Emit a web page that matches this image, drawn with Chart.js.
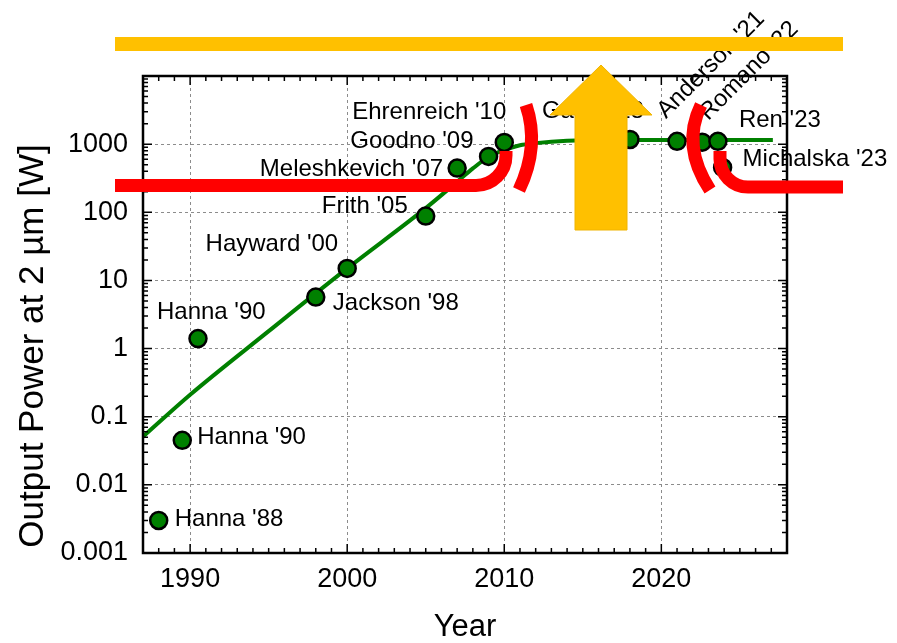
<!DOCTYPE html>
<html>
<head>
<meta charset="utf-8">
<script src="https://cdn.jsdelivr.net/npm/chart.js@4.4.1/dist/chart.umd.min.js"></script>
<style>
  html, body { margin: 0; padding: 0; background: #fff; }
  #wrap { width: 897px; height: 643px; }
</style>
</head>
<body>
<div id="wrap"><canvas id="c" width="897" height="643"></canvas></div>
<script>
// Reported output power of 2 µm lasers, by year of publication
const years   = [1988, 1989.5, 1990.5, 1998, 2000, 2005, 2007, 2009, 2010, 2018, 2021, 2022.6, 2023.6, 2023.9];
const powers  = [0.003, 0.045, 1.4, 5.7, 15, 88, 445, 660, 1060, 1170, 1100, 1070, 1100, 455];
const authors = ["Hanna '88", "Hanna '90", "Hanna '90", "Jackson '98", "Hayward '00", "Frith '05",
                 "Meleshkevich '07", "Goodno '09", "Ehrenreich '10", "Gaida '18", "Anderson '21",
                 "Romano '22", "Ren '23", "Michalska '23"];

// Trend curve: exponential growth that levels off near 1 kW
const trendYears  = [1987, 1990, 1995, 2000, 2005, 2007, 2008, 2009, 2010, 2011, 2012, 2014, 2017, 2020, 2024, 2027.1];
const trendPowers = [0.051, 0.21, 1.8, 15, 115, 280, 440, 650, 820, 965, 1035, 1120, 1150, 1150, 1150, 1150];

// Axis tick labels
const yearTicks  = [1990, 2000, 2010, 2020];
const powerTicks = [0.001, 0.01, 0.1, 1, 10, 100, 1000];

const FONT = '"Liberation Sans", Arial, sans-serif';
const GREEN = '#008000';

// Where each author label sits relative to its marker
const labelPlacement = [
  { dx: 16,  dy: -1,  align: 'left' },
  { dx: 15,  dy: -3,  align: 'left' },
  { dx: -41, dy: -26, align: 'left' },
  { dx: 17,  dy: 6,   align: 'left' },
  { dx: -9,  dy: -24, align: 'right' },
  { dx: -18, dy: -10, align: 'right' },
  { dx: -14, dy: 1,   align: 'right' },
  { dx: -15, dy: -15, align: 'right' },
  { dx: 2,   dy: -30, align: 'right' },
  { dx: -88, dy: -28, align: 'left' },
  { dx: -11, dy: -22, align: 'left', rot: -45 },
  { dx: 6,   dy: -21, align: 'left', rot: -45 },
  { dx: 21,  dy: -21, align: 'left' },
  { dx: 20,  dy: -8,  align: 'left' }
];

// Frame with inward major/minor ticks on all four sides
const framePlugin = {
  id: 'frame',
  afterDatasetsDraw(chart) {
    const { ctx, chartArea: a, scales: { x, y } } = chart;
    ctx.save();
    ctx.strokeStyle = '#000';
    ctx.lineWidth = 1.5;
    ctx.beginPath();
    for (let yr = Math.ceil(x.min); yr <= Math.floor(x.max); yr++) {
      const px = x.getPixelForValue(yr);
      const len = yearTicks.includes(yr) ? 9 : 5;
      ctx.moveTo(px, a.bottom); ctx.lineTo(px, a.bottom - len);
      ctx.moveTo(px, a.top);    ctx.lineTo(px, a.top + len);
    }
    for (let d = -3; d <= 3; d++) {
      for (let m = 1; m <= 9; m++) {
        const py = y.getPixelForValue(m * Math.pow(10, d));
        const len = m === 1 ? 9 : 5;
        ctx.moveTo(a.left, py);  ctx.lineTo(a.left + len, py);
        ctx.moveTo(a.right, py); ctx.lineTo(a.right - len, py);
      }
    }
    ctx.stroke();
    ctx.lineWidth = 2.5;
    ctx.strokeRect(a.left, a.top, a.right - a.left, a.bottom - a.top);

    // author labels next to their markers
    const meta = chart.getDatasetMeta(0);
    ctx.fillStyle = '#000';
    ctx.font = '24px ' + FONT;
    meta.data.forEach((pt, i) => {
      const p = labelPlacement[i];
      ctx.save();
      ctx.translate(pt.x + p.dx, pt.y + p.dy);
      ctx.textAlign = p.align;
      if (p.rot) {
        ctx.rotate(p.rot * Math.PI / 180);
        ctx.textBaseline = 'alphabetic';
      } else {
        ctx.textBaseline = 'middle';
      }
      ctx.fillText(authors[i], 0, 0);
      ctx.restore();
    });
    ctx.restore();
  }
};

// Vertical axis title and highlight shapes
const overlayPlugin = {
  id: 'overlay',
  afterDraw(chart) {
    const ctx = chart.ctx;
    ctx.save();
    ctx.fillStyle = '#000';
    ctx.font = '35px ' + FONT;
    ctx.textAlign = 'center';
    ctx.textBaseline = 'middle';
    ctx.translate(33, 346);
    ctx.rotate(-Math.PI / 2);
    ctx.fillText('Output Power at 2 µm [W]', 0, 0);
    ctx.restore();

    ctx.save();
    // amber ceiling bar
    ctx.fillStyle = '#FFC000';
    ctx.fillRect(115, 37, 728, 14);
    // amber up arrow
    ctx.beginPath();
    ctx.moveTo(601, 65);
    ctx.lineTo(652, 115);
    ctx.lineTo(627, 115);
    ctx.lineTo(627, 230);
    ctx.lineTo(575, 230);
    ctx.lineTo(575, 115);
    ctx.lineTo(550, 115);
    ctx.closePath();
    ctx.fill();
    ctx.strokeStyle = '#F0B400';
    ctx.lineWidth = 1;
    ctx.stroke();

    // red brackets
    ctx.strokeStyle = '#FF0000';
    ctx.lineWidth = 13;
    ctx.lineCap = 'butt';
    ctx.beginPath();
    ctx.moveTo(115, 185.5);
    ctx.lineTo(476, 185.5);
    ctx.arc(476, 155.5, 30, Math.PI / 2, 0, true);
    ctx.lineTo(506, 151);
    ctx.stroke();

    ctx.beginPath();
    ctx.moveTo(526, 105);
    ctx.quadraticCurveTo(540, 146, 519, 190);
    ctx.stroke();

    ctx.beginPath();
    ctx.moveTo(701, 105);
    ctx.quadraticCurveTo(681, 146, 710, 190);
    ctx.stroke();

    ctx.beginPath();
    ctx.moveTo(720, 151);
    ctx.lineTo(720, 159);
    ctx.arc(748, 159, 28, Math.PI, Math.PI / 2, true);
    ctx.lineTo(843, 187);
    ctx.stroke();
    ctx.restore();
  }
};

new Chart(document.getElementById('c'), {
  type: 'scatter',
  data: {
    datasets: [
      {
        label: 'Reported',
        data: years.map((yr, i) => ({ x: yr, y: powers[i] })),
        pointRadius: 8.5,
        pointHoverRadius: 8.5,
        borderWidth: 2.5,
        borderColor: '#000',
        backgroundColor: GREEN,
        order: 1
      },
      {
        label: 'Trend',
        data: trendYears.map((yr, i) => ({ x: yr, y: trendPowers[i] })),
        showLine: true,
        pointRadius: 0,
        borderColor: GREEN,
        borderWidth: 4,
        cubicInterpolationMode: 'monotone',
        order: 2
      }
    ]
  },
  options: {
    responsive: false,
    devicePixelRatio: 1,
    animation: false,
    layout: { padding: { top: 76, right: 110, left: 0, bottom: 0 } },
    plugins: { legend: { display: false }, tooltip: { enabled: false } },
    scales: {
      x: {
        type: 'linear',
        min: 1987,
        max: 2028,
        afterBuildTicks: s => { s.ticks = yearTicks.map(v => ({ value: v })); },
        afterFit: s => { s.height = 90; },
        grid: { color: '#8c8c8c', lineWidth: 1, drawTicks: false },
        border: { display: false, dash: [3, 3] },
        ticks: { padding: 10, color: '#000', font: { family: FONT, size: 27 }, callback: v => String(v), maxRotation: 0 },
        title: { display: true, text: 'Year', color: '#000', font: { family: FONT, size: 31, lineHeight: 1 }, padding: 0 }
      },
      y: {
        type: 'logarithmic',
        min: 0.001,
        max: 10000,
        afterBuildTicks: s => { s.ticks = powerTicks.map(v => ({ value: v })); },
        afterFit: s => { s.width = 143; },
        grid: { color: '#8c8c8c', lineWidth: 1, drawTicks: false },
        border: { display: false, dash: [3, 3] },
        ticks: { padding: 15, color: '#000', font: { family: FONT, size: 27 }, callback: v => String(v) }
      }
    }
  },
  plugins: [framePlugin, overlayPlugin]
});
</script>
</body>
</html>
